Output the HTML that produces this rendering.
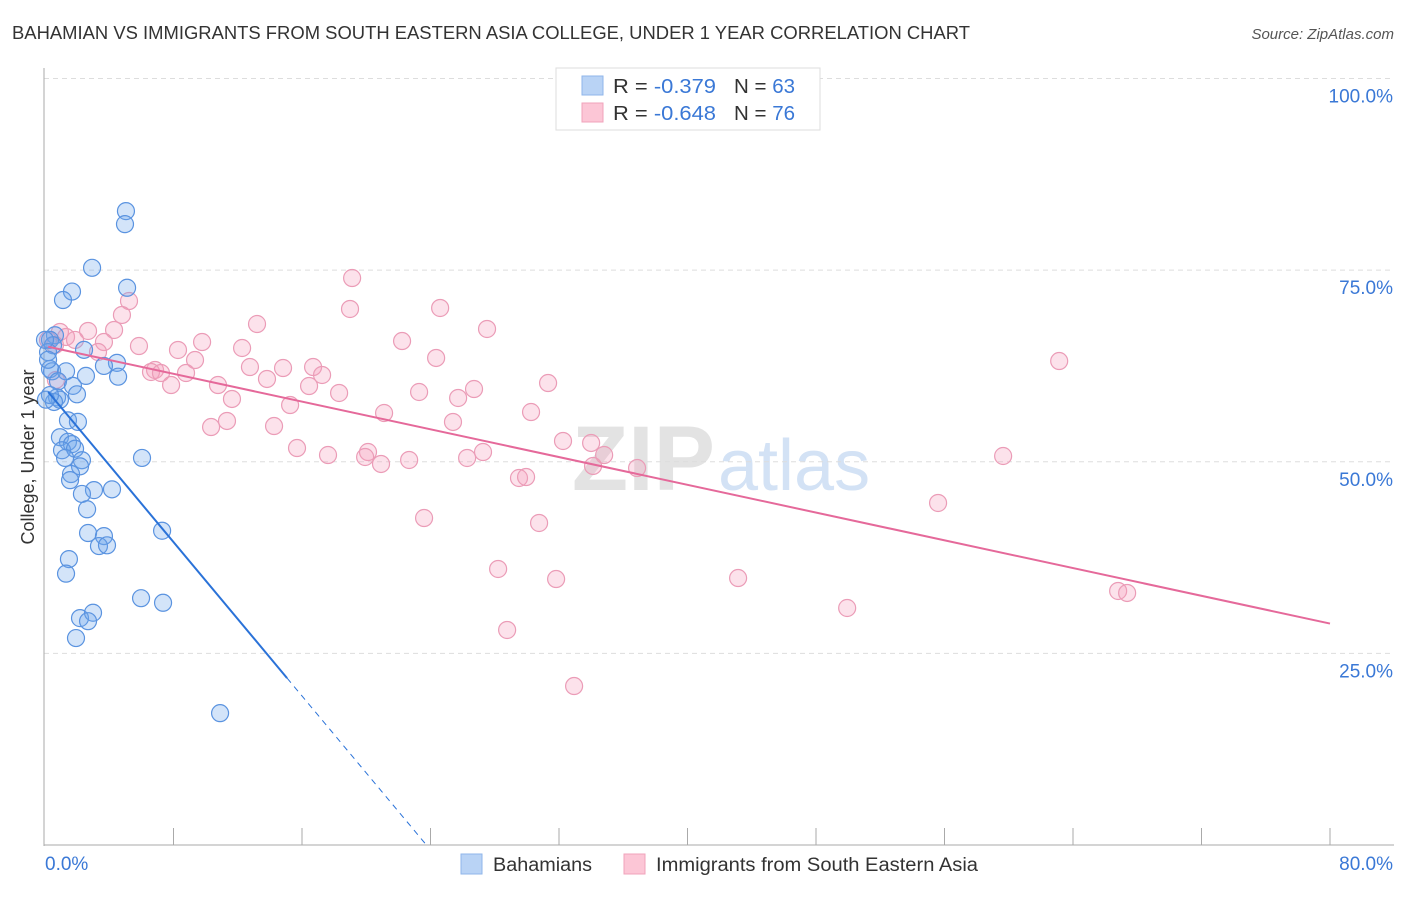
<!DOCTYPE html>
<html><head><meta charset="utf-8"><style>
body{margin:0;background:#fff;font-family:"Liberation Sans",sans-serif}
svg text{font-family:"Liberation Sans",sans-serif}
</style></head><body>
<svg id="chart" width="1406" height="892">
<text x="12" y="39" font-size="18" fill="#333" textLength="958" lengthAdjust="spacingAndGlyphs">BAHAMIAN VS IMMIGRANTS FROM SOUTH EASTERN ASIA COLLEGE, UNDER 1 YEAR CORRELATION CHART</text>
<text x="1394" y="39" font-size="15" fill="#555" font-style="italic" text-anchor="end">Source: ZipAtlas.com</text>
<text x="715" y="490" font-size="92" fill="#e3e3e3" text-anchor="end" font-family="Liberation Serif" font-weight="bold">ZIP</text>
<text x="718" y="490" font-size="72" fill="#d3e2f5">atlas</text>
<g id="grid"></g>
<g id="axes"></g>
<g id="marks"></g>
<text transform="translate(34,457) rotate(-90)" font-size="18" fill="#333" text-anchor="middle">College, Under 1 year</text>
<g>
<rect x="556" y="68" width="264" height="62" fill="#fff" stroke="#ddd"/>
<rect x="582" y="76" width="21" height="19" fill="#b9d3f5" stroke="#8fb6ea"/>
<rect x="582" y="103" width="21" height="19" fill="#fcc6d6" stroke="#f0a3bb"/>
<text x="613" y="93" font-size="20" fill="#333" textLength="103" lengthAdjust="spacingAndGlyphs">R = <tspan fill="#3a78d6">-0.379</tspan></text>
<text x="734" y="93" font-size="20" fill="#333" textLength="61" lengthAdjust="spacingAndGlyphs">N = <tspan fill="#3a78d6">63</tspan></text>
<text x="613" y="120" font-size="20" fill="#333" textLength="103" lengthAdjust="spacingAndGlyphs">R = <tspan fill="#3a78d6">-0.648</tspan></text>
<text x="734" y="120" font-size="20" fill="#333" textLength="61" lengthAdjust="spacingAndGlyphs">N = <tspan fill="#3a78d6">76</tspan></text>
</g>
<g>
<rect x="461" y="854" width="21" height="20" fill="#b9d3f5" stroke="#8fb6ea"/>
<text x="493" y="871" font-size="19" fill="#333" textLength="99" lengthAdjust="spacingAndGlyphs">Bahamians</text>
<rect x="624" y="854" width="21" height="20" fill="#fcc6d6" stroke="#f0a3bb"/>
<text x="656" y="871" font-size="19" fill="#333" textLength="322" lengthAdjust="spacingAndGlyphs">Immigrants from South Eastern Asia</text>
</g>
</svg>
<script>
const blueX=[5.04,4.98,2.93,1.68,1.12,5.11,0.62,0.31,0.50,0.19,2.43,4.48,3.67,4.55,0.31,0.44,1.31,2.55,0.81,1.74,1.99,0.75,0.93,0.56,1.43,2.05,0.93,1.43,1.68,1.06,1.87,1.25,2.30,2.18,1.62,1.56,6.04,3.05,4.17,2.30,2.62,2.68,3.67,3.36,3.86,7.29,1.49,1.31,5.98,7.35,2.18,2.99,2.68,1.93,10.9,0,0.19,0.31,0.06];
const blueY=[82.7,81.0,75.3,72.2,71.1,72.7,66.5,65.9,65.2,64.3,64.6,62.9,62.5,61.1,62.1,61.8,61.8,61.2,60.5,59.9,58.8,58.4,58.1,57.8,55.4,55.2,53.2,52.6,52.3,51.5,51.7,50.5,50.2,49.4,48.4,47.6,50.5,46.3,46.4,45.8,43.8,40.7,40.3,39.0,39.1,41.0,37.3,35.4,32.2,31.6,29.6,30.3,29.2,27.0,17.2,65.9,63.3,58.7,58.1];
const pinkX=[19.12,5.23,18.99,24.60,4.79,27.52,13.20,4.30,2.68,0.93,1.31,1.87,3.67,5.85,9.78,12.27,22.23,8.28,3.30,9.34,63.14,24.35,6.85,6.60,7.22,7.85,8.78,10.77,12.76,14.82,16.69,13.82,17.25,16.44,31.32,26.71,23.29,11.64,18.31,15.26,21.11,25.72,30.26,0.68,11.33,10.34,14.26,25.40,15.69,17.62,20.11,19.93,20.92,22.67,26.28,27.27,32.25,34.00,34.12,34.81,36.86,59.65,29.51,29.95,23.60,30.76,55.60,28.21,31.82,43.15,66.81,67.37,49.94,28.77,32.94,0.19,0.62];
const pinkY=[73.97,70.97,69.93,70.06,69.15,67.32,67.97,67.19,67.06,66.93,66.28,65.89,65.62,65.10,65.62,64.84,65.75,64.58,64.32,63.27,63.14,63.54,61.97,61.71,61.58,60.01,61.58,60.01,62.36,62.23,62.36,60.80,61.32,59.88,60.27,59.49,59.10,58.19,58.97,57.40,56.36,58.32,56.49,60.67,55.32,54.53,54.66,55.19,51.79,50.88,51.27,50.62,49.71,50.23,50.49,51.27,52.71,52.45,49.45,50.88,49.18,50.75,47.88,48.01,42.66,42.01,44.62,36.01,34.70,34.83,33.14,32.88,30.92,28.05,20.74,65.88,65.23];
const blueTrend=[0.2,59.1,-2.51]; // x0, y0, slope
const pinkTrend=[0.2,65.0,-0.4525];
const yTicks=[25,50,75,100];
const xTickCount=10;
const NS="http://www.w3.org/2000/svg";
const X=v=>45+v/80*1285;
const Y=v=>845-v*7.665;
function mk(t,a,p){const e=document.createElementNS(NS,t);for(const k in a)e.setAttribute(k,a[k]);p.appendChild(e);return e;}
const grid=document.getElementById('grid'),axes=document.getElementById('axes'),marks=document.getElementById('marks');
yTicks.forEach(v=>{
  const l=mk('line',{x1:44,x2:1394,y1:Y(v),y2:Y(v),stroke:'#ddd','stroke-dasharray':'5,4'},grid);
  
  
  const t=mk('text',{x:1393,y:Y(v)+24,'font-size':19,fill:'#3a78d6','text-anchor':'end'},axes);
  t.textContent=v.toFixed(1)+'%';
  
  
});
const ya=mk('line',{x1:44,x2:44,y1:68,y2:846,stroke:'#aaa'},axes);


const xa=mk('line',{x1:44,x2:1394,y1:845,y2:845,stroke:'#aaa'},axes);


for(let i=1;i<=xTickCount;i++){
  const tk=mk('line',{x1:X(i*8),x2:X(i*8),y1:828,y2:845,stroke:'#aaa'},axes);
  
  
}
const xl0=mk('text',{x:45,y:870,'font-size':19,fill:'#3a78d6'},axes);xl0.textContent='0.0%';


const xl1=mk('text',{x:1393,y:870,'font-size':19,fill:'#3a78d6','text-anchor':'end'},axes);xl1.textContent='80.0%';


function pts(xs,ys,fill,stroke,name){
  xs.forEach((x,i)=>{
    const c=mk('circle',{cx:X(x),cy:Y(ys[i]),r:8.5,fill:fill,stroke:stroke,'stroke-width':1.2},marks);
    
    
  });
}
pts(pinkX,pinkY,'rgba(246,160,190,0.3)','#eb9cb7','point-immigrants');
pts(blueX,blueY,'rgba(110,165,235,0.3)','#5a93e0','point-bahamians');
const bEnd=15.07, bZero=blueTrend[0]-blueTrend[1]/blueTrend[2];
const by=x=>blueTrend[1]+blueTrend[2]*(x-blueTrend[0]);
const bl=mk('line',{x1:X(blueTrend[0]),y1:Y(by(blueTrend[0])),x2:X(bEnd),y2:Y(by(bEnd)),stroke:'#2a72d8','stroke-width':2},marks);


const bd=mk('line',{x1:X(bEnd),y1:Y(by(bEnd)),x2:X(bZero),y2:Y(0),stroke:'#2a72d8','stroke-width':1,'stroke-dasharray':'6,5'},marks);


const py=x=>pinkTrend[1]+pinkTrend[2]*(x-pinkTrend[0]);
const pl=mk('line',{x1:X(pinkTrend[0]),y1:Y(py(pinkTrend[0])),x2:X(80),y2:Y(py(80)),stroke:'#e5699a','stroke-width':2},marks);


</script>
</body></html>
